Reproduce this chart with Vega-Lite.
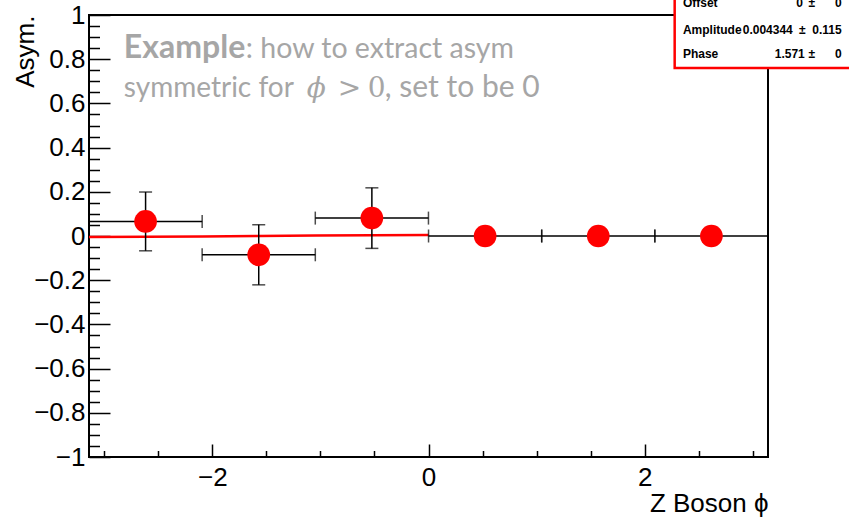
{
  "$schema": "https://vega.github.io/schema/vega-lite/v6.json",
  "width": 679,
  "height": 442,
  "autosize": {"type": "none"},
  "padding": {"left": 89, "top": 15, "right": 81, "bottom": 63},
  "config": {
    "view": {"stroke": "#000000", "strokeWidth": 2},
    "font": "Liberation Sans",
    "axis": {
      "domain": false,
      "grid": false,
      "tickColor": "#000000",
      "tickWidth": 1.5,
      "labelColor": "#000000",
      "titleColor": "#000000",
      "labelFont": "Liberation Sans",
      "titleFont": "Liberation Sans",
      "titleFontWeight": "normal",
      "labelOverlap": false,
      "labelBound": false,
      "labelFlush": false
    }
  },
  "datasets": {
    "asym": [
      {"phi": -2.618, "ephi": 0.5236, "asym": 0.066, "easym": 0.133},
      {"phi": -1.571, "ephi": 0.5236, "asym": -0.085, "easym": 0.136},
      {"phi": -0.524, "ephi": 0.5236, "asym": 0.081, "easym": 0.137},
      {"phi": 0.524, "ephi": 0.5236, "asym": 0, "easym": 0},
      {"phi": 1.571, "ephi": 0.5236, "asym": 0, "easym": 0},
      {"phi": 2.618, "ephi": 0.5236, "asym": 0, "easym": 0}
    ],
    "fit": [
      {"phi": -3.1416, "fit": -0.00434},
      {"phi": -2.618, "fit": -0.00376},
      {"phi": -2.094, "fit": -0.00217},
      {"phi": -1.571, "fit": 0},
      {"phi": -1.047, "fit": 0.00217},
      {"phi": -0.524, "fit": 0.00376},
      {"phi": 0, "fit": 0.00434}
    ],
    "fitpars": [
      {"par": "Offset", "val": "0", "err": "0"},
      {"par": "Amplitude", "val": "0.004344", "err": "0.115"},
      {"par": "Phase", "val": "1.571", "err": "0"}
    ]
  },
  "layer": [
    {
      "data": {"name": "fit"},
      "mark": {"type": "line", "color": "#ff0000", "strokeWidth": 2.5},
      "encoding": {
        "x": {
          "field": "phi",
          "type": "quantitative",
          "title": "Z Boson ϕ",
          "scale": {"domain": [-3.14159, 3.14159], "nice": false, "zero": false},
          "axis": {
            "titleAnchor": "end",
            "titleFontSize": 26,
            "titlePadding": -6,
            "tickCount": 100,
            "values": [-3, -2.5, -2, -1.5, -1, -0.5, 0, 0.5, 1, 1.5, 2, 2.5, 3],
            "tickSize": {"condition": {"test": "datum.value % 2 === 0", "value": -13}, "value": -6.5},
            "labelExpr": "datum.value % 2 === 0 ? format(datum.value, '~g') : ''",
            "labelFontSize": 26,
            "labelPadding": 20
          }
        },
        "y": {
          "field": "fit",
          "type": "quantitative",
          "title": "Asym.",
          "scale": {"domain": [-1, 1], "nice": false, "zero": false},
          "axis": {
            "titleAnchor": "end",
            "titleFontSize": 26,
            "titlePadding": -5,
            "tickCount": 100,
            "values": [-1, -0.95, -0.9, -0.85, -0.8, -0.75, -0.7, -0.65, -0.6, -0.55, -0.5, -0.45, -0.4, -0.35, -0.3, -0.25, -0.2, -0.15, -0.1, -0.05, 0, 0.05, 0.1, 0.15, 0.2, 0.25, 0.3, 0.35, 0.4, 0.45, 0.5, 0.55, 0.6, 0.65, 0.7, 0.75, 0.8, 0.85, 0.9, 0.95, 1],
            "tickSize": {"condition": {"test": "abs(datum.value * 5 - round(datum.value * 5)) < 0.01", "value": -21}, "value": -10.5},
            "labelExpr": "abs(datum.value * 5 - round(datum.value * 5)) < 0.01 ? format(datum.value, '~g') : ''",
            "labelFontSize": 26,
            "labelPadding": 25
          }
        }
      }
    },
    {
      "data": {"name": "asym"},
      "mark": {
        "type": "errorbar",
        "color": "#000000",
        "rule": {"strokeWidth": 1.5},
        "ticks": {"size": 13, "thickness": 1.5}
      },
      "encoding": {
        "x": {"field": "phi", "type": "quantitative", "title": "Z Boson ϕ"},
        "y": {"field": "asym", "type": "quantitative", "title": "Asym."},
        "yError": {"field": "easym"}
      }
    },
    {
      "data": {"name": "asym"},
      "mark": {
        "type": "errorbar",
        "color": "#000000",
        "rule": {"strokeWidth": 1.5},
        "ticks": {"size": 13, "thickness": 1.5}
      },
      "encoding": {
        "x": {"field": "phi", "type": "quantitative", "title": "Z Boson ϕ"},
        "xError": {"field": "ephi"},
        "y": {"field": "asym", "type": "quantitative", "title": "Asym."}
      }
    },
    {
      "data": {"name": "asym"},
      "mark": {"type": "circle", "size": 515, "color": "#ff0000", "opacity": 1},
      "encoding": {
        "x": {"field": "phi", "type": "quantitative", "title": "Z Boson ϕ"},
        "y": {"field": "asym", "type": "quantitative", "title": "Asym."}
      }
    },
    {
      "data": {"values": [{}]},
      "encoding": {
        "x": {"datum": -2.819, "type": "quantitative"},
        "y": {"datum": 0.804, "type": "quantitative"}
      },
      "layer": [
        {"mark": {"type": "text", "text": "Example", "font": "Lato", "fontWeight": "bold", "fontSize": 32, "color": "#a6a6a6", "align": "left", "baseline": "alphabetic"}},
        {"mark": {"type": "text", "text": ": how to extract asym", "font": "Lato", "fontSize": 28.5, "color": "#a6a6a6", "align": "left", "baseline": "alphabetic", "dx": 122}}
      ]
    },
    {
      "data": {"values": [{}]},
      "encoding": {
        "x": {"datum": -2.819, "type": "quantitative"},
        "y": {"datum": 0.6267, "type": "quantitative"}
      },
      "layer": [
        {"mark": {"type": "text", "text": "symmetric for", "font": "Lato", "fontSize": 28, "color": "#a6a6a6", "align": "left", "baseline": "alphabetic"}},
        {"mark": {"type": "text", "text": "ϕ", "font": "DejaVu Serif", "fontStyle": "italic", "fontSize": 28, "color": "#a6a6a6", "align": "left", "baseline": "alphabetic", "dx": 183}},
        {"mark": {"type": "text", "text": ">", "font": "DejaVu Serif", "fontSize": 28, "color": "#a6a6a6", "align": "left", "baseline": "alphabetic", "dx": 214}},
        {"mark": {"type": "text", "text": "0", "font": "DejaVu Serif", "fontSize": 28, "color": "#a6a6a6", "align": "left", "baseline": "alphabetic", "dx": 244}},
        {"mark": {"type": "text", "text": ", set to be 0", "font": "Lato", "fontSize": 30, "color": "#a6a6a6", "align": "left", "baseline": "alphabetic", "dx": 261}}
      ]
    },
    {
      "data": {"values": [{}]},
      "mark": {"type": "rect", "fill": "#ffffff", "stroke": "#ff0000", "strokeWidth": 2.5},
      "encoding": {
        "x": {"datum": 2.278, "type": "quantitative"},
        "x2": {"datum": 4.6},
        "y": {"datum": 0.7606, "type": "quantitative"},
        "y2": {"datum": 1.3}
      }
    },
    {
      "data": {"name": "fitpars"},
      "transform": [{"filter": "datum.par === 'Offset'"}],
      "encoding": {"y": {"datum": 1.054, "type": "quantitative"}},
      "layer": [
        {"mark": {"type": "text", "fontSize": 12, "fontWeight": "bold", "align": "left", "baseline": "middle", "color": "#000000"}, "encoding": {"x": {"datum": 2.354, "type": "quantitative"}, "text": {"field": "par"}}},
        {"mark": {"type": "text", "fontSize": 12, "fontWeight": "bold", "align": "right", "baseline": "middle", "color": "#000000"}, "encoding": {"x": {"datum": 3.464, "type": "quantitative"}, "text": {"field": "val"}}},
        {"mark": {"type": "text", "text": "±", "fontSize": 12, "fontWeight": "bold", "align": "center", "baseline": "middle", "color": "#000000"}, "encoding": {"x": {"datum": 3.547, "type": "quantitative"}}},
        {"mark": {"type": "text", "fontSize": 12, "fontWeight": "bold", "align": "right", "baseline": "middle", "color": "#000000"}, "encoding": {"x": {"datum": 3.823, "type": "quantitative"}, "text": {"field": "err"}}}
      ]
    },
    {
      "data": {"name": "fitpars"},
      "transform": [{"filter": "datum.par === 'Amplitude'"}],
      "encoding": {"y": {"datum": 0.932, "type": "quantitative"}},
      "layer": [
        {"mark": {"type": "text", "fontSize": 12, "fontWeight": "bold", "align": "left", "baseline": "middle", "color": "#000000"}, "encoding": {"x": {"datum": 2.354, "type": "quantitative"}, "text": {"field": "par"}}},
        {"mark": {"type": "text", "fontSize": 12, "fontWeight": "bold", "align": "right", "baseline": "middle", "color": "#000000"}, "encoding": {"x": {"datum": 3.371, "type": "quantitative"}, "text": {"field": "val"}}},
        {"mark": {"type": "text", "text": "±", "fontSize": 12, "fontWeight": "bold", "align": "center", "baseline": "middle", "color": "#000000"}, "encoding": {"x": {"datum": 3.458, "type": "quantitative"}}},
        {"mark": {"type": "text", "fontSize": 12, "fontWeight": "bold", "align": "right", "baseline": "middle", "color": "#000000"}, "encoding": {"x": {"datum": 3.823, "type": "quantitative"}, "text": {"field": "err"}}}
      ]
    },
    {
      "data": {"name": "fitpars"},
      "transform": [{"filter": "datum.par === 'Phase'"}],
      "encoding": {"y": {"datum": 0.824, "type": "quantitative"}},
      "layer": [
        {"mark": {"type": "text", "fontSize": 12, "fontWeight": "bold", "align": "left", "baseline": "middle", "color": "#000000"}, "encoding": {"x": {"datum": 2.354, "type": "quantitative"}, "text": {"field": "par"}}},
        {"mark": {"type": "text", "fontSize": 12, "fontWeight": "bold", "align": "right", "baseline": "middle", "color": "#000000"}, "encoding": {"x": {"datum": 3.482, "type": "quantitative"}, "text": {"field": "val"}}},
        {"mark": {"type": "text", "text": "±", "fontSize": 12, "fontWeight": "bold", "align": "center", "baseline": "middle", "color": "#000000"}, "encoding": {"x": {"datum": 3.547, "type": "quantitative"}}},
        {"mark": {"type": "text", "fontSize": 12, "fontWeight": "bold", "align": "right", "baseline": "middle", "color": "#000000"}, "encoding": {"x": {"datum": 3.823, "type": "quantitative"}, "text": {"field": "err"}}}
      ]
    }
  ]
}
